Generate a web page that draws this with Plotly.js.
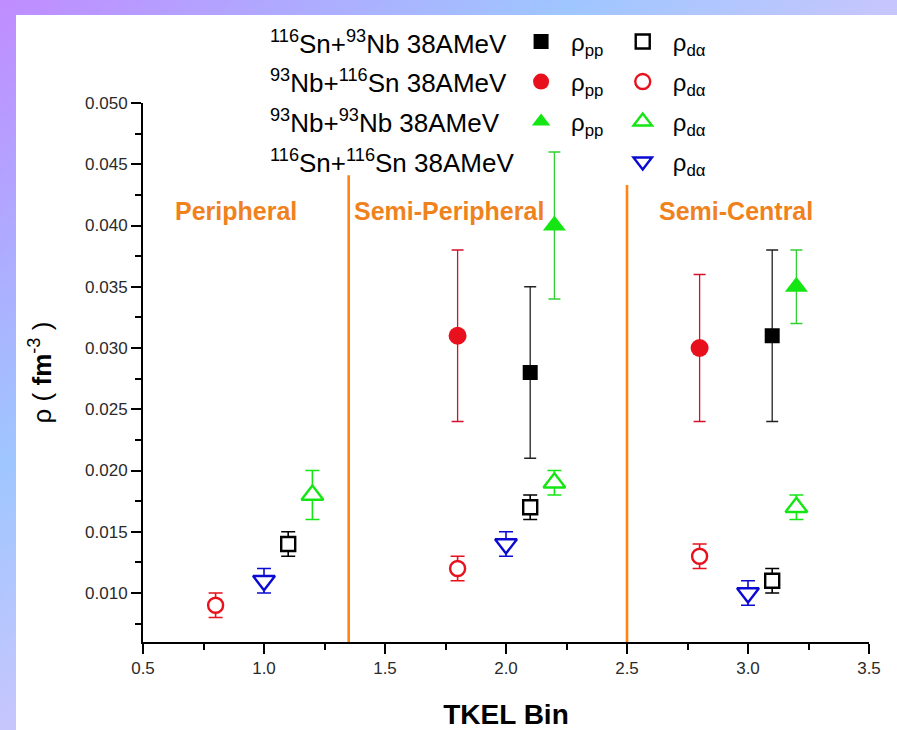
<!DOCTYPE html>
<html>
<head>
<meta charset="utf-8">
<script src="https://cdn.plot.ly/plotly-3.0.1.min.js"></script>
<style>
  html, body { margin: 0; padding: 0; }
  #frame {
    position: absolute; left: 0; top: 0; width: 897px; height: 730px;
    background: linear-gradient(to bottom right, #c08cff 0%, #9fc6ff 32%, #c6c6fd 50%, #c8c8ff 100%);
  }
  #panel { position: absolute; left: 16px; top: 15px; width: 881px; height: 715px; background: #ffffff; }
  #chart { position: absolute; left: 0; top: 0; width: 897px; height: 730px; }
</style>
</head>
<body>
<div id="frame"></div>
<div id="panel"></div>
<div id="chart"></div>
<script>
// ---- Densities per TKEL bin -------------------------------------------
// 116Sn + 93Nb
const snNbPPx = [2.1, 3.1];
const snNbPP = [0.028, 0.031];
const snNbPPerr = [0.007, 0.007];
const snNbDAx = [1.1, 2.1, 3.1];
const snNbDA = [0.014, 0.017, 0.011];
const snNbDAerr = [0.001, 0.001, 0.001];

// 93Nb + 116Sn
const nbSnPPx = [1.8, 2.8];
const nbSnPP = [0.031, 0.030];
const nbSnPPerr = [0.007, 0.006];
const nbSnDAx = [0.8, 1.8, 2.8];
const nbSnDA = [0.009, 0.012, 0.013];
const nbSnDAerr = [0.001, 0.001, 0.001];

// 93Nb + 93Nb
const nbNbPPx = [2.2, 3.2];
const nbNbPP = [0.040, 0.035];
const nbNbPPerr = [0.006, 0.003];
const nbNbDAx = [1.2, 2.2, 3.2];
const nbNbDA = [0.018, 0.019, 0.017];
const nbNbDAerr = [0.002, 0.001, 0.001];

// 116Sn + 116Sn
const snSnDAx = [1.0, 2.0, 3.0];
const snSnDA = [0.011, 0.014, 0.010];
const snSnDAerr = [0.001, 0.001, 0.001];

// Reaction labels (one per legend row)
const systemLabels = [
  '<sup>116</sup>Sn+<sup>93</sup>Nb 38AMeV',
  '<sup>93</sup>Nb+<sup>116</sup>Sn 38AMeV',
  '<sup>93</sup>Nb+<sup>93</sup>Nb 38AMeV',
  '<sup>116</sup>Sn+<sup>116</sup>Sn 38AMeV'
];
const ppName = '\u03c1<sub>pp</sub>';
const daName = '\u03c1<sub>d\u03b1</sub>';

// Centrality regions and the bin boundaries between them
const regionNames = ['Peripheral', 'Semi-Peripheral', 'Semi-Central'];
const regionX = [0.885, 1.766, 2.95];
const regionY = 0.0412;
const boundaryX = [1.35, 2.5];
const boundaryTop = [0.0441, 0.0433];

const yMin = 0.006, yMax = 0.050;

// ---- Styling ------------------------------------------------------------
const BLACK = '#000000', RED = '#e8101c', GREEN = '#14e614', BLUE = '#0a0ad2', ORANGE = '#ff8412';
const FONT = 'Liberation Sans, Arial, Helvetica, sans-serif';

function filled(x, y, err, symbol, color, size, errColor, legend, group) {
  return {
    type: 'scatter', mode: 'markers', x: x, y: y,
    name: legend === 'legend' ? ppName : daName,
    legend: legend, legendgroup: group,
    marker: { symbol: symbol, size: size, color: color, line: { width: 0 } },
    error_y: { type: 'data', array: err, visible: true, color: errColor, thickness: 1.3, width: 6 },
    hoverinfo: 'x+y'
  };
}
function hollow(x, y, err, symbol, color, size, legend, group) {
  return {
    type: 'scatter', mode: 'markers', x: x, y: y,
    name: daName, legend: legend, legendgroup: group,
    marker: { symbol: symbol, size: size, color: '#ffffff', line: { width: 2.4, color: color } },
    error_y: { type: 'data', array: err, visible: true, color: color, thickness: 1.6, width: 7 },
    hoverinfo: 'x+y'
  };
}

const traces = [
  filled(snNbPPx, snNbPP, snNbPPerr, 'square', BLACK, 15, '#222222', 'legend', 'a1'),
  filled(nbSnPPx, nbSnPP, nbSnPPerr, 'circle', RED, 18, '#d4102a', 'legend', 'a2'),
  filled(nbNbPPx, nbNbPP, nbNbPPerr, 'triangle-up', GREEN, 20, '#30d030', 'legend', 'a3'),
  hollow(snNbDAx, snNbDA, snNbDAerr, 'square', BLACK, 14, 'legend2', 'b1'),
  hollow(nbSnDAx, nbSnDA, nbSnDAerr, 'circle', RED, 15, 'legend2', 'b2'),
  hollow(nbNbDAx, nbNbDA, nbNbDAerr, 'triangle-up', GREEN, 19, 'legend2', 'b3'),
  hollow(snSnDAx, snSnDA, snSnDAerr, 'triangle-down', BLUE, 19, 'legend2', 'b4')
];

const shapes = boundaryX.map((bx, i) => ({
  type: 'line', xref: 'x', yref: 'y', x0: bx, x1: bx, y0: yMin, y1: boundaryTop[i],
  line: { color: ORANGE, width: 2.6 }, layer: 'below'
}));

const annotations = [];
regionNames.forEach((name, i) => {
  annotations.push({
    xref: 'x', yref: 'y', x: regionX[i], y: regionY, text: name, showarrow: false,
    xanchor: 'center', yanchor: 'middle',
    font: { family: FONT, size: 25, color: '#f0821e', weight: 'bold' }
  });
});
const rowY = [1.113, 1.039, 0.965, 0.891];
systemLabels.forEach((label, i) => {
  annotations.push({
    xref: 'paper', yref: 'paper', x: 0.172, y: rowY[i], text: label, showarrow: false,
    xanchor: 'left', yanchor: 'middle',
    font: { family: FONT, size: 26, color: '#000000' }
  });
});

const legendCommon = {
  orientation: 'v', traceorder: 'grouped', tracegroupgap: 5.8,
  bgcolor: 'rgba(0,0,0,0)', borderwidth: 0, itemwidth: 50,
  font: { family: FONT, size: 24, color: '#000000' },
  xanchor: 'left', yanchor: 'top', itemclick: false, itemdoubleclick: false
};

const layout = {
  width: 897, height: 730,
  margin: { l: 143, r: 28, t: 103, b: 88 },
  paper_bgcolor: 'rgba(0,0,0,0)', plot_bgcolor: 'rgba(0,0,0,0)',
  font: { family: FONT, size: 17, color: '#111111' },
  showlegend: true,
  legend: Object.assign({}, legendCommon, { x: 0.507, y: 1.155 }),
  legend2: Object.assign({}, legendCommon, { x: 0.647, y: 1.155 }),
  xaxis: {
    range: [0.5, 3.5], dtick: 0.5, tick0: 0.5, tickformat: '.1f',
    showgrid: false, zeroline: false, showline: true, linecolor: '#000', linewidth: 2,
    ticks: 'outside', ticklen: 10, tickwidth: 2, tickcolor: '#000',
    minor: { dtick: 0.25, ticks: 'outside', ticklen: 6, tickwidth: 2, tickcolor: '#000' },
    tickfont: { family: FONT, size: 17, color: '#2a2a2a' },
    title: { text: 'TKEL Bin', standoff: 28, font: { family: FONT, size: 28, color: '#000', weight: 'bold' } }
  },
  yaxis: {
    range: [yMin, yMax], dtick: 0.005, tick0: 0.010, tickformat: '.3f',
    showgrid: false, zeroline: false, showline: true, linecolor: '#000', linewidth: 2,
    ticks: 'outside', ticklen: 10, tickwidth: 2, tickcolor: '#000',
    minor: { dtick: 0.0025, ticks: 'outside', ticklen: 6, tickwidth: 2, tickcolor: '#000' },
    tickfont: { family: FONT, size: 17, color: '#2a2a2a' },
    title: { text: '\u03c1 ( <b>fm</b><sup>-3</sup> )', standoff: 26, font: { family: FONT, size: 26, color: '#000' } }
  },
  shapes: shapes,
  annotations: annotations
};

Plotly.newPlot('chart', traces, layout, { displayModeBar: false, staticPlot: true });
</script>
</body>
</html>
